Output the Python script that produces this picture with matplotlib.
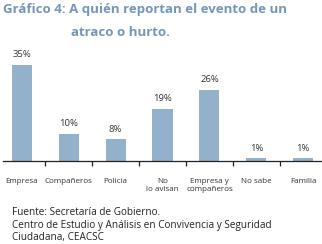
import matplotlib
matplotlib.use('Agg')
import matplotlib.pyplot as plt
import numpy as np

categorias = ['Empresa', 'Compañeros', 'Policía', 'No\nlo avisan',
              'Empresa y\ncompañeros', 'No sabe', 'Familia']
valores = [35, 10, 8, 19, 26, 1, 1]
etiquetas = ['35%', '10%', '8%', '19%', '26%', '1%', '1%']

BAR = '#93b1ca'
TITLE = '#7396ba'
FONT = 'Open Sans'

fig = plt.figure(figsize=(3.22, 2.44), dpi=100)
ax = fig.add_axes([3/322, 83/244, 319/322, 110/244])

x = np.arange(len(valores))
ax.bar(x, valores, width=0.43, color=BAR)
for xi, v, t in zip(x, valores, etiquetas):
    ax.text(xi, v + 2.0, t, ha='center', va='bottom', fontsize=6.8,
            family=FONT, color='#333333')

ax.set_xlim(-0.4, 6.4)
ax.set_ylim(0, 40)
for s in ['top', 'right', 'left']:
    ax.spines[s].set_visible(False)
ax.spines['bottom'].set_linewidth(0.9)
ax.spines['bottom'].set_color('#222222')
ax.set_yticks([])
ax.set_xticks(x[:-1] + 0.5)
ax.set_xticklabels([])
ax.tick_params(axis='x', direction='out', length=3.5, width=0.9, color='#222222')
for xi, c in zip(x, categorias):
    ax.text(xi, -6.3, c, ha='center', va='top', fontsize=5.8, family=FONT,
            color='#333333', linespacing=1.1)

fig.text(3/322, 1 - 9/244, 'Gráfico 4: A quién reportan el evento de un',
         ha='left', va='center', fontsize=9.5, fontweight='bold', family=FONT, color=TITLE)
fig.text(71/322, 1 - 33/244, 'atraco o hurto.',
         ha='left', va='center', fontsize=9.5, fontweight='bold', family=FONT, color=TITLE)

fig.text(12/322, 1 - 207/244,
         'Fuente: Secretaría de Gobierno.\n'
         'Centro de Estudio y Análisis en Convivencia y Seguridad\n'
         'Ciudadana, CEACSC',
         ha='left', va='top', fontsize=7.2, family=FONT, color='#222222',
         linespacing=1.2)

fig.savefig('out.png', dpi=100)
